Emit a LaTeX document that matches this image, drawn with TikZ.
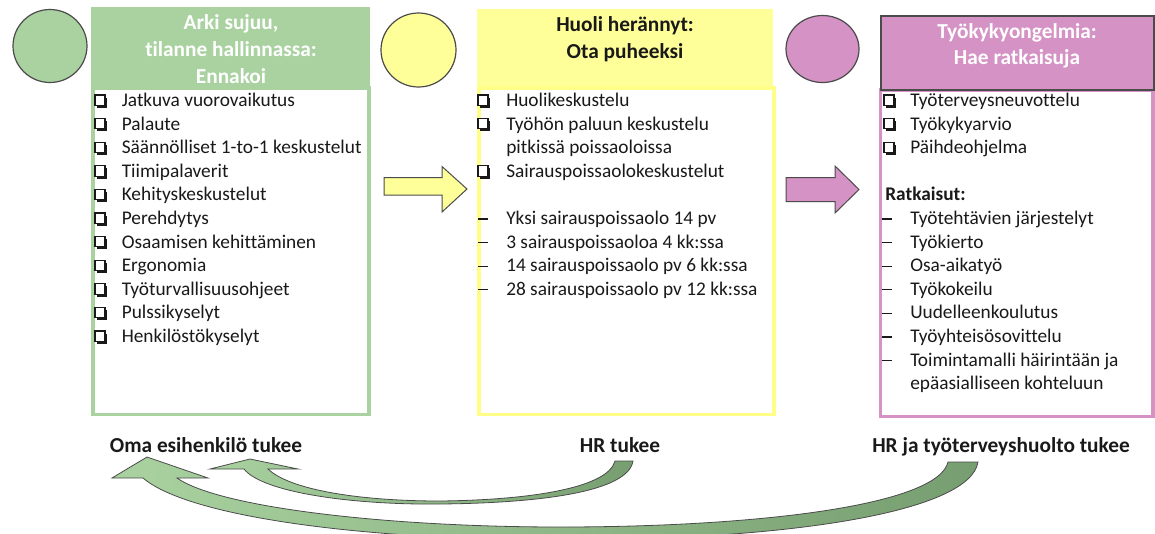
\documentclass[tikz,border=0pt]{standalone}
\usepackage{fontspec}
\setmainfont{Carlito}[Ligatures=NoCommon]
\usetikzlibrary{calc}
\definecolor{grn}{RGB}{169,210,160}
\definecolor{grnD}{RGB}{118,158,112}
\definecolor{ylw}{RGB}{255,255,153}
\definecolor{ylwB}{RGB}{255,255,135}
\definecolor{pnk}{RGB}{213,146,196}
\definecolor{ink}{RGB}{25,25,25}
\definecolor{edge}{RGB}{75,75,75}
\begin{document}
\begin{tikzpicture}[x=0.75pt,y=-0.75pt,
  title/.style={font=\fontsize{16}{19.5}\selectfont\bfseries, anchor=base, inner sep=0},
  item/.style={font=\fontsize{14.5}{17.7}\selectfont, text=ink, anchor=base west, inner sep=0},
  dot/.style={draw=edge, line width=0.9pt},
  listbox/.style={line width=2.6pt, fill=white},
  blockarrow/.style={draw=edge, line width=0.75pt, line join=miter},
  curvedarrow/.style={draw=edge, line width=0.6pt, left color=grn, right color=grnD},
  dashmark/.style={draw=ink, line width=0.8pt},
  chk/.pic={\fill[ink] (2.2,-9) rectangle (12.2,1.3);
            \draw[ink, fill=white, line width=0.8pt] (0,-11.5) rectangle (10,-1.2);}
]
\useasboundingbox (0,0) rectangle (1155,533);

% ---------- phase 1: green ----------
\draw[dot, fill=grn] (50,46) ellipse [x radius=37, y radius=36.5];
\fill[grn] (91,7) rectangle (370,87);
\node[title, text=white] (gt1) at (231,29.5) {Arki sujuu,};
\node[title, text=white] (gt2) at (231,56.5) {tilanne hallinnassa:};
\node[title, text=white] (gt3) at (231,83) {Ennakoi};
\draw[listbox, draw=grn] (93,88) rectangle (369,414.5);
\foreach \t [count=\i from 0] in {Jatkuva vuorovaikutus, Palaute,
    Säännölliset 1-to-1 keskustelut, Tiimipalaverit, Kehityskeskustelut,
    Perehdytys, Osaamisen kehittäminen, Ergonomia, Työturvallisuusohjeet,
    Pulssikyselyt, Henkilöstökyselyt} {
  \pic at (95,{106.5+23.6*\i}) {chk};
  \node[item] (g\i) at (121.5,{106.5+23.6*\i}) {\t};
}

% ---------- phase 2: yellow ----------
\draw[dot, fill=ylw] (418.5,50) ellipse [x radius=37.5, y radius=37];
\fill[ylw] (477,9) rectangle (773,86);
\node[title, text=ink] (yt1) at (625,31) {Huoli herännyt:};
\node[title, text=ink] (yt2) at (625,58) {Ota puheeksi};
\draw[listbox, draw=ylwB] (479,88) rectangle (774,414.5);
\foreach \k/\t/\r in {c/Huolikeskustelu/0, c/Työhön paluun keskustelu/1,
    n/pitkissä poissaoloissa/2, c/Sairauspoissaolokeskustelut/3,
    d/Yksi sairauspoissaolo 14 pv/5, d/3 sairauspoissaoloa 4 kk:ssa/6,
    d/14 sairauspoissaolo pv 6 kk:ssa/7, d/28 sairauspoissaolo pv 12 kk:ssa/8} {
  \if\k c \pic at (478,{106.5+23.6*\r}) {chk}; \fi
  \if\k d \draw[dashmark] (478,{101+23.6*\r}) -- (488,{101+23.6*\r}); \fi
  \node[item] (y\r) at (506,{106.5+23.6*\r}) {\t};
}

% ---------- phase 3: pink ----------
\draw[dot, fill=pnk] (822.5,49) ellipse [x radius=36.5, y radius=33.5];
\draw[listbox, draw=pnk] (880.5,90) rectangle (1153,416.5);
\draw[fill=pnk, draw=edge, line width=1pt] (881,16) rectangle (1154,90);
\node[title, text=white] (pt1) at (1017,38) {Työkykyongelmia:};
\node[title, text=white] (pt2) at (1017,64) {Hae ratkaisuja};
\foreach \k/\t/\r in {c/Työterveysneuvottelu/0, c/Työkykyarvio/1,
    c/Päihdeohjelma/2, d/Työtehtävien järjestelyt/5, d/Työkierto/6,
    d/Osa-aikatyö/7, d/Työkokeilu/8, d/Uudelleenkoulutus/9,
    d/Työyhteisösovittelu/10, d/Toimintamalli häirintään ja/11,
    n/epäasialliseen kohteluun/12} {
  \if\k c \pic at (884,{106.5+23.6*\r}) {chk}; \fi
  \if\k d \draw[dashmark] (882,{101+23.6*\r}) -- (892,{101+23.6*\r}); \fi
  \node[item] (p\r) at (910,{106.5+23.6*\r}) {\t};
}
\node[item, font=\fontsize{14.5}{17.7}\selectfont\bfseries] (p4) at (885,{106.5+23.6*4}) {Ratkaisut:};

% ---------- block arrows between phases ----------
\draw[blockarrow, fill=ylw] (384,177.5) -- (442,177.5) -- (442,166.5) -- (467,189)
  -- (442,212) -- (442,195) -- (384,195) -- cycle;
\draw[blockarrow, fill=pnk] (786,177.5) -- (835,177.5) -- (835,166) -- (859,189.5)
  -- (835,213) -- (835,201.5) -- (786,201.5) -- cycle;

% ---------- support labels ----------
\node[title, text=ink] (oma) at (206,452) {Oma esihenkilö tukee};
\node[title, text=ink] (hr) at (620,452) {HR tukee};
\node[title, text=ink] (hrth) at (1001,452) {HR ja työterveyshuolto tukee};

% ---------- curved support arrows ----------
\coordinate (hrL) at (615,461);
\coordinate (hrR) at (633,461);
\coordinate (thL) at (948,462);
\coordinate (thR) at (978,462);
\begin{scope}
\clip (0,0) rectangle (1155,533);
% from HR back to the supervisor
\path[curvedarrow] (hrR) .. controls (628,492) and (540,503) .. (440,504)
  .. controls (350,505) and (262,492) .. (244,469)
  -- (210,469) -- (250,459) -- (298,469) -- (268,469)
  .. controls (290,490) and (360,501) .. (440,501)
  .. controls (530,500) and (608,488) .. (hrL) -- cycle;
% from HR and occupational health back to the supervisor
\path[curvedarrow] (thR) .. controls (970,512) and (790,540) .. (560,540)
  .. controls (370,540) and (190,518) .. (143,478)
  -- (112,478) -- (147,457) -- (208,478) -- (177,478)
  .. controls (220,508) and (390,527) .. (560,527)
  .. controls (760,527) and (938,505) .. (thL) -- cycle;
\end{scope}
\end{tikzpicture}
\end{document}
